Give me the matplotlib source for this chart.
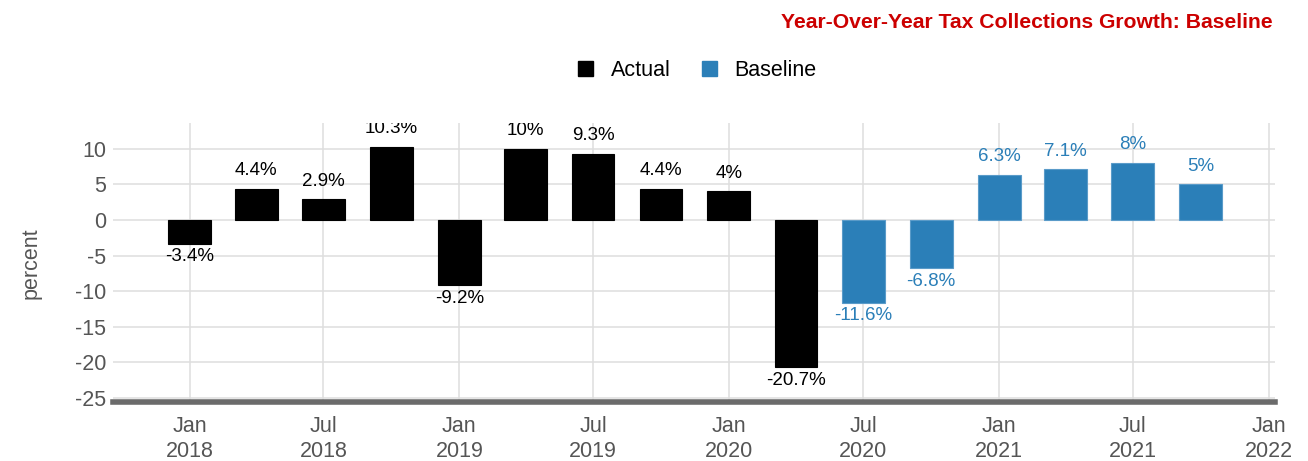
import matplotlib
matplotlib.use("Agg")
import matplotlib.pyplot as plt
import matplotlib.dates as mdates
from matplotlib.patches import Patch
import numpy as np
import pandas as pd

# quarterly year-over-year growth, percent
quarters = ["2018-01-01", "2018-04-01", "2018-07-01", "2018-10-01",
            "2019-01-01", "2019-04-01", "2019-07-01", "2019-10-01",
            "2020-01-01", "2020-04-01", "2020-07-01", "2020-10-01",
            "2021-01-01", "2021-04-01", "2021-07-01", "2021-10-01"]
growth = [-3.4, 4.4, 2.9, 10.3, -9.2, 10, 9.3, 4.4, 4, -20.7,
          -11.6, -6.8, 6.3, 7.1, 8, 5]
series = ["Actual"] * 10 + ["Baseline"] * 6

colors = {"Actual": "#000000", "Baseline": "#2b7fb8"}
edges = {"Actual": "#000000", "Baseline": "#5a9bc9"}

df = pd.DataFrame({"date": pd.to_datetime(quarters), "value": growth, "series": series})

plt.rcParams["font.family"] = ["Liberation Sans", "DejaVu Sans"]
plt.rcParams["axes.unicode_minus"] = False

fig = plt.figure(figsize=(13.08, 4.61), dpi=100)
ax = fig.add_axes([0.0864, 0.127, 0.8886, 0.606])

for name, grp in df.groupby("series"):
    x = mdates.date2num(grp["date"])
    ax.bar(x, grp["value"], width=58, color=colors[name],
           edgecolor=edges[name], linewidth=0.8, zorder=3)
    for xi, v in zip(x, grp["value"]):
        lbl = f"{v:g}%"
        if v >= 0:
            ax.annotate(lbl, (xi, v), xytext=(0, 7), textcoords="offset points",
                        ha="center", va="bottom", fontsize=13.5, color=colors[name],
                        annotation_clip=False, clip_on=True, zorder=4)
        else:
            ax.annotate(lbl, (xi, v), xytext=(0, -3), textcoords="offset points",
                        ha="center", va="top", fontsize=13.5, color=colors[name],
                        annotation_clip=False, clip_on=True, zorder=4)

ax.set_xlim(mdates.date2num(pd.Timestamp("2017-09-19")),
            mdates.date2num(pd.Timestamp("2022-01-10")))
ax.set_ylim(-25.63, 13.6)

ticks = pd.date_range("2018-01-01", "2022-01-01", freq="6MS")
ax.set_xticks(mdates.date2num(ticks))
ax.set_xticklabels([t.strftime("%b\n%Y") for t in ticks])
ax.set_yticks(np.arange(-25, 11, 5))

ax.grid(True, color="#dedede", linewidth=1.1, zorder=0)
ax.set_axisbelow(True)
for side in ["top", "right", "left"]:
    ax.spines[side].set_visible(False)
ax.spines["bottom"].set_color("#6b6b6b")
ax.spines["bottom"].set_linewidth(4)
ax.tick_params(axis="both", length=0, labelsize=15.5, colors="#555555")
ax.tick_params(axis="x", pad=10)
ax.tick_params(axis="y", pad=5)
ax.set_ylabel("percent", fontsize=15.5, color="#555555", labelpad=24)

fig.text(0.973, 0.952, "Year-Over-Year Tax Collections Growth: Baseline",
         ha="right", va="center", fontsize=15.2, fontweight="bold", color="#cc0000")

handles = [Patch(facecolor=colors[k], edgecolor=colors[k], label=k) for k in colors]
fig.legend(handles=handles, loc="center", bbox_to_anchor=(0.533, 0.846), ncol=2,
           frameon=False, fontsize=15.5, handlelength=0.7, handleheight=0.7,
           handletextpad=0.8, columnspacing=1.45)

fig.savefig("out.png", dpi=100)
